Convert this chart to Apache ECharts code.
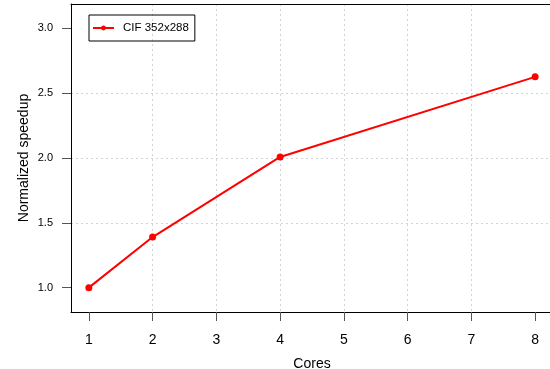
<!DOCTYPE html>
<html>
<head>
<meta charset="utf-8">
<script src="https://cdn.jsdelivr.net/npm/echarts@6/dist/echarts.min.js"></script>
<style>html,body{margin:0;padding:0;background:#fff}#c{width:550px;height:369px}</style>
</head>
<body>
<div id="c"></div>
<script>
var cores = [1, 2, 4, 8];
var speedup = [1.0, 1.39, 2.008, 2.626];
var seriesName = 'CIF 352x288';
var xTicks = [1, 2, 3, 4, 5, 6, 7, 8];
var yTicks = [1.0, 1.5, 2.0, 2.5, 3.0];

var font = 'Liberation Sans, Arial, Helvetica, sans-serif';
var chart = echarts.init(document.getElementById('c'), null, {renderer: 'canvas'});
chart.setOption({
  animation: false,
  backgroundColor: '#ffffff',
  grid: {left: 71, top: 4, width: 482, height: 308, outerBoundsMode: 'none', containLabel: false, show: false},
  legend: {
    show: true, left: 89, top: 15, orient: 'vertical',
    padding: [7, 6, 7, 3], itemWidth: 21, itemHeight: 6,
    borderColor: '#000', borderWidth: 1, borderRadius: 0,
    textStyle: {fontFamily: font, fontSize: 11.5, color: '#000', padding: [0, 0, 0, 4]},
    data: [seriesName]
  },
  xAxis: [{
    type: 'value', min: 0.72, max: 8.28, position: 'bottom',
    name: 'Cores', nameLocation: 'middle', nameGap: 45, nameMoveOverlap: false,
    nameTextStyle: {fontFamily: font, fontSize: 14, color: '#000'},
    axisLine: {show: true, onZero: false, lineStyle: {color: '#000', width: 1}},
    axisTick: {show: true, length: 9, customValues: xTicks, lineStyle: {color: '#555'}},
    axisLabel: {customValues: xTicks, margin: 21, fontFamily: font, fontSize: 14, color: '#000'},
    splitLine: {show: true, showMinLine: false, showMaxLine: false, lineStyle: {color: '#d3d3d3', type: [2, 3], width: 1}}
  }, {
    type: 'value', min: 0.72, max: 8.28, position: 'top',
    axisLine: {show: true, onZero: false, lineStyle: {color: '#000', width: 1}},
    axisTick: {show: false}, axisLabel: {show: false}, splitLine: {show: false}
  }],
  yAxis: {
    type: 'value', min: 0.812, max: 3.188,
    name: 'Normalized speedup', nameLocation: 'middle', nameGap: 40, nameMoveOverlap: false,
    nameTextStyle: {fontFamily: font, fontSize: 14, color: '#000'},
    axisLine: {show: true, onZero: false, lineStyle: {color: '#000', width: 1}},
    axisTick: {show: true, length: 9, customValues: yTicks, lineStyle: {color: '#555'}},
    axisLabel: {customValues: yTicks, margin: 18, fontFamily: font, fontSize: 11, color: '#000',
      formatter: function (v) { return v.toFixed(1); }},
    splitLine: {show: true, showMinLine: false, showMaxLine: false, lineStyle: {color: '#d3d3d3', type: [2, 3], width: 1}}
  },
  series: [{
    name: seriesName, type: 'line', xAxisIndex: 0,
    data: cores.map(function (c, i) { return [c, speedup[i]]; }),
    symbol: 'circle', symbolSize: 7, showSymbol: true,
    lineStyle: {color: '#ff0000', width: 2},
    itemStyle: {color: '#ff0000'}
  }]
});
</script>
</body>
</html>
